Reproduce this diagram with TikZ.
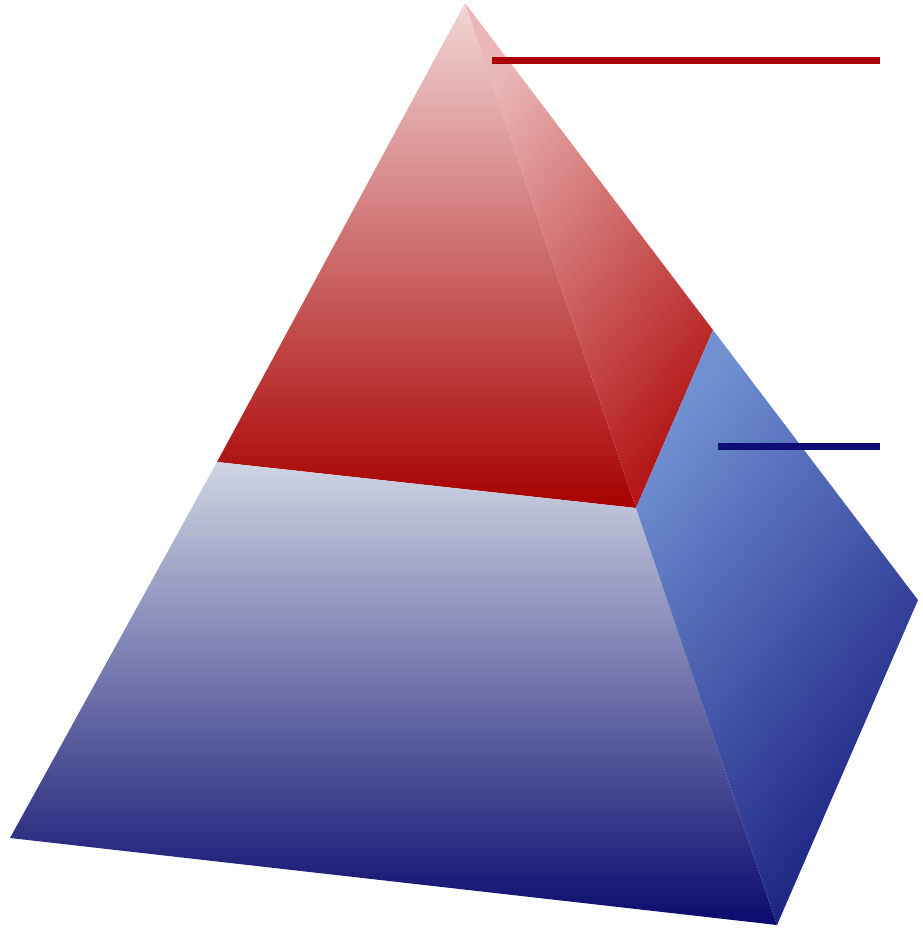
\documentclass[tikz,border=0pt]{standalone}
\usetikzlibrary{calc}
\definecolor{redtop}{HTML}{F2D6D6}
\definecolor{redbot}{HTML}{A80000}
\definecolor{redsidetl}{HTML}{EAB6B6}
\definecolor{redsidebr}{HTML}{B41818}
\definecolor{bluetop}{HTML}{CFD5E3}
\definecolor{bluebot}{HTML}{0A0A6E}
\definecolor{bluesidetl}{HTML}{7090D2}
\definecolor{bluesidebr}{HTML}{1A2080}
\definecolor{redline}{HTML}{AA0000}
\definecolor{blueline}{HTML}{0D0D75}
\tikzset{
  frontface/.style 2 args={shade, top color=#1, bottom color=#2, draw=none},
  sideface/.style 2 args={shade, left color=#1, right color=#2, shading angle=50, draw=none},
  marker/.style={line width=7pt, line cap=butt}
}
\begin{document}
\begin{tikzpicture}[x=1pt,y=-1pt]
\useasboundingbox (0,0) rectangle (922,930);
% corners
\coordinate (apex) at (465,3);
\coordinate (bl) at (10,838);
\coordinate (bf) at (777,925);
\coordinate (br) at (918,600);
\coordinate (ml) at (217,462);
\coordinate (mf) at (636,508);
\coordinate (mr) at (713,330);
% marker line ends
\coordinate (r1) at (492,60);
\coordinate (r2) at (880,60);
\coordinate (b1) at (718,446);
\coordinate (b2) at (880,446);
% faces
\path[frontface={redtop}{redbot}] (apex) -- (ml) -- (mf) -- cycle;
\path[sideface={redsidetl}{redsidebr}] (apex) -- (mr) -- (mf) -- cycle;
\path[frontface={bluetop}{bluebot}] (ml) -- (mf) -- (bf) -- (bl) -- cycle;
\path[sideface={bluesidetl}{bluesidebr}] (mf) -- (mr) -- (br) -- (bf) -- cycle;
% markers
\draw[marker, redline] (r1) -- (r2);
\draw[marker, blueline] (b1) -- (b2);
\end{tikzpicture}
\end{document}
